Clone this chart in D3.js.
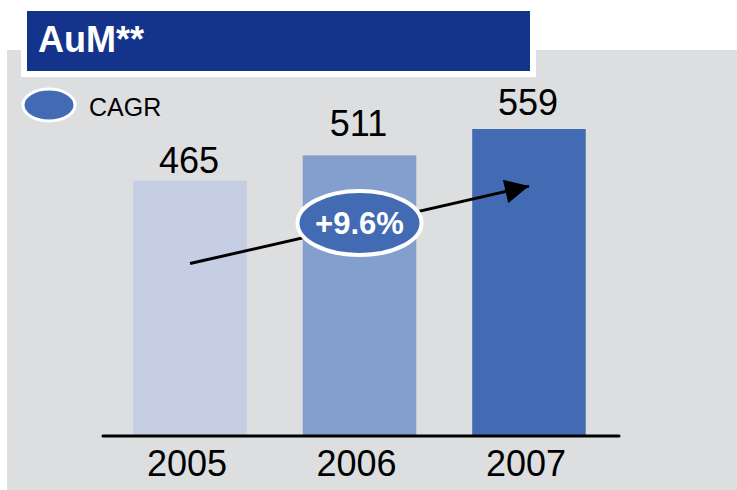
<!DOCTYPE html>
<html>
<head>
<meta charset="utf-8">
<script src="https://cdn.jsdelivr.net/npm/d3@7"></script>
<style>
    body { margin: 0; background: #ffffff; }
    svg  { display: block; font-family: "Liberation Sans", Arial, sans-serif; }
</style>
</head>
<body>
<script>
// 图表数据
var v_Years    = ["2005", "2006", "2007"];
var v_AuM      = [465, 511, 559];
var v_Colors   = ["#c5cee2", "#839fcd", "#426bb3"];
var v_Title    = "AuM**";
var v_Legend   = "CAGR";
var v_CAGR     = "+9.6%";

// 标签离柱顶的距离
var v_LabelLift = [8, 19, 14];

var v_Width  = 737;
var v_Height = 490;

var v_SVG = d3.select("body").append("svg")
    .attr("width",  v_Width)
    .attr("height", v_Height);

// 灰色背景
v_SVG.append("rect")
    .attr("x", 7).attr("y", 50)
    .attr("width", v_Width - 7).attr("height", v_Height - 50)
    .attr("fill", "#dddee0");

// 标题
v_SVG.append("rect")
    .attr("x", 21).attr("y", 6)
    .attr("width", 515).attr("height", 71)
    .attr("fill", "#ffffff");
v_SVG.append("rect")
    .attr("x", 27).attr("y", 11)
    .attr("width", 503).attr("height", 60)
    .attr("fill", "#13348a");
v_SVG.append("text")
    .attr("x", 38).attr("y", 52)
    .attr("fill", "#ffffff")
    .attr("font-size", 36)
    .attr("font-weight", "bold")
    .text(v_Title);

// 图例
v_SVG.append("ellipse")
    .attr("cx", 49).attr("cy", 105)
    .attr("rx", 26).attr("ry", 16)
    .attr("fill", "#426bb3")
    .attr("stroke", "#ffffff")
    .attr("stroke-width", 3);
v_SVG.append("text")
    .attr("x", 89).attr("y", 116)
    .attr("fill", "#000000")
    .attr("font-size", 25)
    .text(v_Legend);

// 比例尺
var v_X = d3.scaleBand()
    .domain(v_Years)
    .range([118, 601])
    .paddingInner(0.33)
    .paddingOuter(0.09);

var v_Y = d3.scaleLinear()
    .domain([0, 559])
    .range([436, 129]);

// 柱子
v_SVG.append("g").selectAll("rect")
    .data(v_AuM)
    .join("rect")
    .attr("x",      (d, i) => v_X(v_Years[i]))
    .attr("y",      d => v_Y(d))
    .attr("width",  v_X.bandwidth())
    .attr("height", d => v_Y(0) - v_Y(d))
    .attr("fill",   (d, i) => v_Colors[i]);

// 数值标签
v_SVG.append("g").selectAll("text")
    .data(v_AuM)
    .join("text")
    .attr("x", (d, i) => v_X(v_Years[i]) + v_X.bandwidth() / 2 - 1)
    .attr("y", (d, i) => v_Y(d) - v_LabelLift[i])
    .attr("text-anchor", "middle")
    .attr("font-size", 36)
    .attr("fill", "#000000")
    .text(d => d);

// X轴
var v_Axis = v_SVG.append("g")
    .attr("transform", "translate(0," + v_Y(0) + ")")
    .call(d3.axisBottom(v_X).tickSize(0).tickPadding(14));
v_Axis.select(".domain").remove();
v_Axis.append("line")
    .attr("x1", 103).attr("x2", 619)
    .attr("y1", 0).attr("y2", 0)
    .attr("stroke", "#000000")
    .attr("stroke-width", 3)
    .attr("stroke-linecap", "round");
v_Axis.selectAll(".tick text")
    .attr("font-family", "Liberation Sans, Arial, sans-serif")
    .attr("font-size", 36)
    .attr("dx", -3)
    .attr("fill", "#000000");

// CAGR 箭头
var v_Defs = v_SVG.append("defs");
v_Defs.append("marker")
    .attr("id", "arrowHead")
    .attr("viewBox", "0 0 10 10")
    .attr("refX", 10).attr("refY", 5)
    .attr("markerWidth", 9).attr("markerHeight", 8)
    .attr("markerUnits", "strokeWidth")
    .attr("orient", "auto")
    .append("path")
    .attr("d", "M0,0 L10,5 L0,10 Z")
    .attr("fill", "#000000");

var v_X0 = v_X(v_Years[0]) + v_X.bandwidth() / 2;
var v_X1 = v_X(v_Years[2]) + v_X.bandwidth() / 2;
v_SVG.append("line")
    .attr("x1", v_X0).attr("y1", v_Y(314))
    .attr("x2", v_X1).attr("y2", v_Y(455))
    .attr("stroke", "#000000")
    .attr("stroke-width", 3)
    .attr("marker-end", "url(#arrowHead)");

var v_XM = v_X(v_Years[1]) + v_X.bandwidth() / 2;
v_SVG.append("ellipse")
    .attr("cx", v_XM).attr("cy", 223)
    .attr("rx", 62).attr("ry", 32)
    .attr("fill", "#426bb3")
    .attr("stroke", "#ffffff")
    .attr("stroke-width", 4);
v_SVG.append("text")
    .attr("x", v_XM).attr("y", 234)
    .attr("text-anchor", "middle")
    .attr("font-size", 31)
    .attr("font-weight", "bold")
    .attr("fill", "#ffffff")
    .text(v_CAGR);
</script>
</body>
</html>
